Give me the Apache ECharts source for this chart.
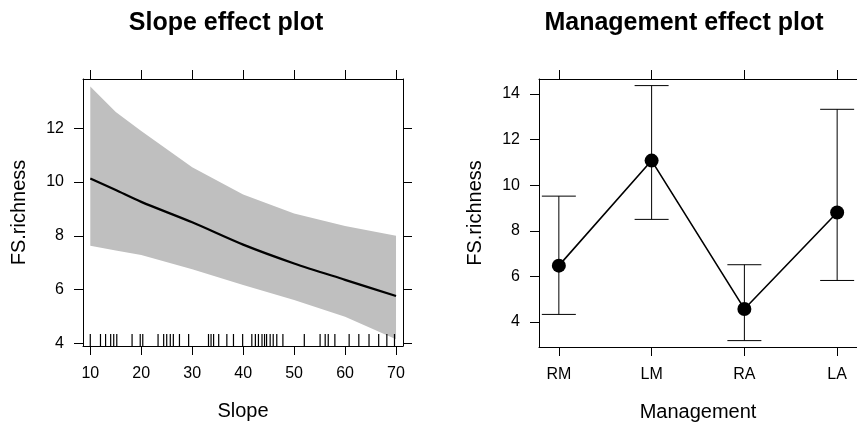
<!DOCTYPE html>
<html>
<head>
<meta charset="utf-8">
<script src="https://cdn.jsdelivr.net/npm/echarts@6/dist/echarts.min.js"></script>
<style>
  html, body { margin: 0; padding: 0; background: #fff; }
  #echartDiv { width: 857px; height: 427px; }
</style>
</head>
<body>
<div id="echartDiv"></div>
<script>
// Slope effect (fit + confidence band)
const slopeX = [10, 15, 20, 30, 40, 50, 60, 70];
const slopeFit = [10.13, 9.7, 9.26, 8.5, 7.67, 6.97, 6.36, 5.76];
const slopeUpper = [13.55, 12.6, 11.9, 10.55, 9.53, 8.83, 8.36, 8.0];
const slopeLower = [7.63, 7.45, 7.28, 6.75, 6.17, 5.61, 4.99, 4.15];
// observed slope values (rug)
const slopeRug = [10, 12, 13, 14, 14.6, 15.2, 18.2, 19.8, 20.3, 23.3, 24.4, 25, 25.7, 26.3, 27.5, 29.3,
  33.2, 33.7, 34.2, 35.2, 36.8, 38.1, 39.9, 41.7, 42.4, 43, 43.7, 44.2, 44.6, 45.3, 45.9, 46.6, 47.8,
  52, 55.1, 56.1, 56.7, 58, 60.8, 62.7, 64.7, 66.6, 68.2, 69.7];
const slopeTicks = [10, 20, 30, 40, 50, 60, 70];
const slopeYTicks = [4, 6, 8, 10, 12];

// Management effect
const mgmtCats = ["RM", "LM", "RA", "LA"];
const mgmtFit = [6.47, 11.08, 4.57, 8.8];
const mgmtLower = [4.33, 8.5, 3.18, 5.82];
const mgmtUpper = [9.52, 14.37, 6.51, 13.33];
const mgmtYTicks = [4, 6, 8, 10, 12, 14];

const txt = "#000";
const font = "Liberation Sans";

function boxAxis(opts) {
  // plain black frame axis with outward ticks
  return Object.assign({
    type: "value",
    axisLine: { show: true, onZero: false, lineStyle: { color: "#000", width: 1 } },
    axisTick: { show: true, inside: false, length: 9, lineStyle: { color: "#000", width: 1 } },
    axisLabel: { show: false },
    splitLine: { show: false },
  }, opts);
}

let chartDom = document.getElementById("echartDiv");
let myChart = echarts.init(chartDom);

const mgmtIdx = mgmtCats.map((c, i) => i + 1);

let option = {
  animation: false,
  backgroundColor: "#fff",
  textStyle: { fontFamily: font },
  title: [
    { text: "Slope effect plot", left: 221, top: 6, textAlign: "center",
      textStyle: { fontSize: 25, fontWeight: "bold", color: txt, fontFamily: font } },
    { text: "Management effect plot", left: 679, top: 6, textAlign: "center",
      textStyle: { fontSize: 25, fontWeight: "bold", color: txt, fontFamily: font } },
  ],
  grid: [
    { left: 83, top: 79, width: 320, height: 267 },
    { left: 539, top: 79, width: 321, height: 268 },
  ],
  xAxis: [
    boxAxis({ gridIndex: 0, position: "bottom", min: 8.57, max: 71.37,
      axisTick: { show: true, length: 9, customValues: slopeTicks, lineStyle: { color: "#000" } },
      axisLabel: { show: true, customValues: slopeTicks, margin: 20, fontSize: 16, color: txt },
      name: "Slope", nameLocation: "middle", nameGap: 55,
      nameTextStyle: { fontSize: 20, color: txt } }),
    boxAxis({ gridIndex: 0, position: "top", min: 8.57, max: 71.37,
      axisTick: { show: true, length: 9, customValues: slopeTicks, lineStyle: { color: "#000" } } }),
    boxAxis({ gridIndex: 1, position: "bottom", min: 0.786, max: 4.214,
      axisTick: { show: true, length: 9, customValues: mgmtIdx, lineStyle: { color: "#000" } },
      axisLabel: { show: true, customValues: mgmtIdx, margin: 20, fontSize: 16, color: txt,
        formatter: (v) => mgmtCats[Math.round(v) - 1] },
      name: "Management", nameLocation: "middle", nameGap: 55,
      nameTextStyle: { fontSize: 20, color: txt } }),
    boxAxis({ gridIndex: 1, position: "top", min: 0.786, max: 4.214,
      axisTick: { show: true, length: 9, customValues: mgmtIdx, lineStyle: { color: "#000" } } }),
  ],
  yAxis: [
    boxAxis({ gridIndex: 0, position: "left", min: 3.9, max: 13.83,
      axisTick: { show: true, length: 9, customValues: slopeYTicks, lineStyle: { color: "#000" } },
      axisLabel: { show: true, customValues: slopeYTicks, margin: 19, fontSize: 16, color: txt },
      name: "FS.richness", nameLocation: "middle", nameGap: 54,
      nameTextStyle: { fontSize: 20, color: txt } }),
    boxAxis({ gridIndex: 0, position: "right", min: 3.9, max: 13.83,
      axisTick: { show: true, length: 9, customValues: slopeYTicks, lineStyle: { color: "#000" } } }),
    boxAxis({ gridIndex: 1, position: "left", min: 2.9, max: 14.66,
      axisTick: { show: true, length: 9, customValues: mgmtYTicks, lineStyle: { color: "#000" } },
      axisLabel: { show: true, customValues: mgmtYTicks, margin: 19, fontSize: 16, color: txt },
      name: "FS.richness", nameLocation: "middle", nameGap: 54,
      nameTextStyle: { fontSize: 20, color: txt } }),
    boxAxis({ gridIndex: 1, position: "right", min: 2.9, max: 14.66,
      axisTick: { show: true, length: 9, customValues: mgmtYTicks, lineStyle: { color: "#000" } } }),
  ],
  series: [
    // confidence band
    {
      type: "custom", xAxisIndex: 0, yAxisIndex: 0, data: [0], z: 1,
      renderItem: function (params, api) {
        let pts = [];
        slopeX.forEach((x, i) => pts.push(api.coord([x, slopeUpper[i]])));
        for (let i = slopeX.length - 1; i >= 0; i--) pts.push(api.coord([slopeX[i], slopeLower[i]]));
        return { type: "polygon", shape: { points: pts }, style: { fill: "#bfbfbf" } };
      },
    },
    // fitted line
    {
      type: "line", xAxisIndex: 0, yAxisIndex: 0, z: 3,
      data: slopeX.map((x, i) => [x, slopeFit[i]]),
      smooth: 0.3, symbol: "none",
      lineStyle: { color: "#000", width: 2.2 },
    },
    // rug
    {
      type: "custom", xAxisIndex: 0, yAxisIndex: 0, z: 2,
      data: slopeRug.map((x) => [x]),
      renderItem: function (params, api) {
        let p = api.coord([api.value(0), 3.9]);
        return { type: "line", shape: { x1: p[0], y1: p[1], x2: p[0], y2: p[1] - 12 },
          style: { stroke: "#000", lineWidth: 1.2 } };
      },
    },
    // error bars
    {
      type: "custom", xAxisIndex: 2, yAxisIndex: 2, z: 2,
      data: mgmtIdx.map((x, i) => [x, mgmtLower[i], mgmtUpper[i]]),
      renderItem: function (params, api) {
        let x = api.value(0);
        let lo = api.coord([x, api.value(1)]);
        let hi = api.coord([x, api.value(2)]);
        let hw = 17;
        let st = { stroke: "#000", lineWidth: 1 };
        return {
          type: "group",
          children: [
            { type: "line", shape: { x1: lo[0], y1: lo[1], x2: hi[0], y2: hi[1] }, style: st },
            { type: "line", shape: { x1: hi[0] - hw, y1: hi[1], x2: hi[0] + hw, y2: hi[1] }, style: st },
            { type: "line", shape: { x1: lo[0] - hw, y1: lo[1], x2: lo[0] + hw, y2: lo[1] }, style: st },
          ],
        };
      },
    },
    // effect points
    {
      type: "line", xAxisIndex: 2, yAxisIndex: 2, z: 3,
      data: mgmtIdx.map((x, i) => [x, mgmtFit[i]]),
      symbol: "circle", symbolSize: 14,
      itemStyle: { color: "#000" },
      lineStyle: { color: "#000", width: 1.6 },
    },
  ],
};
option && myChart.setOption(option);
</script>
</body>
</html>
